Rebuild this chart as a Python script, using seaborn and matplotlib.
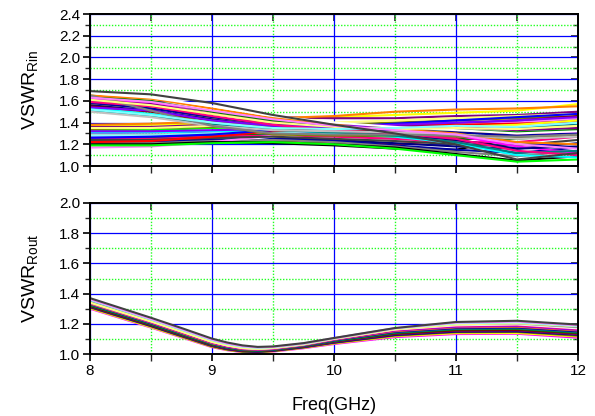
import matplotlib
matplotlib.use("Agg")
import matplotlib.pyplot as plt
import seaborn as sns
import pandas as pd
from matplotlib.ticker import MultipleLocator, FormatStrFormatter

sns.set_theme(style="white")
plt.rcParams['font.family'] = ['Liberation Sans', 'DejaVu Sans']
plt.rcParams['mathtext.fontset'] = 'custom'
plt.rcParams['mathtext.rm'] = 'Liberation Sans'
plt.rcParams['mathtext.it'] = 'Liberation Sans'

# ---------------- data ----------------
freq_rin = [8.0, 8.5, 9.0, 9.5, 10.0, 10.5, 11.0, 11.5, 12.0]

# input VSWR curves that start low (8 GHz ~1.17-1.39)
rin_low_start = [
    [1.21, 1.22, 1.22, 1.21, 1.19, 1.16, 1.15, 1.26, 1.36],
    [1.24, 1.24, 1.25, 1.24, 1.22, 1.20, 1.24, 1.28, 1.32],
    [1.33, 1.33, 1.35, 1.36, 1.37, 1.38, 1.40, 1.41, 1.44],
    [1.30, 1.31, 1.31, 1.32, 1.34, 1.33, 1.35, 1.37, 1.38],
    [1.31, 1.31, 1.32, 1.33, 1.34, 1.35, 1.37, 1.38, 1.40],
    [1.27, 1.27, 1.29, 1.30, 1.30, 1.29, 1.27, 1.28, 1.31],
    [1.37, 1.38, 1.39, 1.41, 1.45, 1.47, 1.49, 1.51, 1.57],
    [1.34, 1.35, 1.36, 1.37, 1.38, 1.40, 1.42, 1.44, 1.46],
    [1.23, 1.23, 1.25, 1.26, 1.24, 1.21, 1.18, 1.16, 1.21],
    [1.36, 1.36, 1.38, 1.45, 1.44, 1.44, 1.46, 1.47, 1.50],
    [1.20, 1.21, 1.25, 1.30, 1.33, 1.36, 1.39, 1.42, 1.46],
    [1.26, 1.26, 1.28, 1.29, 1.28, 1.27, 1.25, 1.25, 1.29],
    [1.19, 1.20, 1.24, 1.29, 1.31, 1.33, 1.34, 1.35, 1.38],
    [1.22, 1.22, 1.24, 1.25, 1.23, 1.19, 1.15, 1.12, 1.17],
    [1.38, 1.39, 1.41, 1.44, 1.46, 1.50, 1.52, 1.53, 1.55],
    [1.32, 1.32, 1.33, 1.34, 1.35, 1.36, 1.38, 1.40, 1.42],
    [1.25, 1.25, 1.27, 1.28, 1.27, 1.25, 1.22, 1.22, 1.27],
    [1.18, 1.19, 1.22, 1.27, 1.30, 1.32, 1.35, 1.37, 1.40],
    [1.29, 1.29, 1.30, 1.31, 1.32, 1.33, 1.33, 1.34, 1.36],
    [1.21, 1.21, 1.23, 1.24, 1.22, 1.18, 1.13, 1.09, 1.14],
    [1.35, 1.35, 1.37, 1.38, 1.40, 1.42, 1.44, 1.46, 1.48],
    [1.28, 1.28, 1.30, 1.31, 1.31, 1.31, 1.30, 1.31, 1.34],
    [1.17, 1.18, 1.22, 1.28, 1.32, 1.35, 1.38, 1.40, 1.44],
    [1.24, 1.24, 1.26, 1.27, 1.25, 1.23, 1.20, 1.19, 1.24],
    [1.20, 1.20, 1.22, 1.22, 1.20, 1.17, 1.11, 1.05, 1.09],
    [1.22, 1.23, 1.27, 1.32, 1.35, 1.37, 1.38, 1.39, 1.41],
    [1.19, 1.19, 1.21, 1.22, 1.20, 1.16, 1.10, 1.04, 1.06],
    [1.26, 1.27, 1.29, 1.33, 1.36, 1.39, 1.42, 1.45, 1.48],
]

# input VSWR curves that start high (8 GHz ~1.50-1.70)
rin_high_start = [
    [1.53, 1.48, 1.40, 1.34, 1.30, 1.27, 1.21, 1.10, 1.08],
    [1.62, 1.58, 1.50, 1.40, 1.35, 1.32, 1.28, 1.18, 1.12],
    [1.57, 1.54, 1.44, 1.37, 1.34, 1.34, 1.36, 1.38, 1.42],
    [1.66, 1.52, 1.38, 1.29, 1.28, 1.28, 1.27, 1.27, 1.28],
    [1.56, 1.51, 1.43, 1.36, 1.32, 1.29, 1.24, 1.16, 1.18],
    [1.60, 1.57, 1.48, 1.41, 1.38, 1.37, 1.36, 1.33, 1.35],
    [1.55, 1.50, 1.42, 1.35, 1.33, 1.32, 1.31, 1.30, 1.33],
    [1.64, 1.60, 1.50, 1.42, 1.37, 1.35, 1.33, 1.31, 1.33],
    [1.51, 1.46, 1.38, 1.33, 1.31, 1.28, 1.22, 1.12, 1.14],
    [1.58, 1.53, 1.45, 1.38, 1.35, 1.33, 1.31, 1.28, 1.30],
    [1.65, 1.62, 1.53, 1.44, 1.38, 1.34, 1.30, 1.22, 1.20],
    [1.54, 1.51, 1.42, 1.37, 1.36, 1.38, 1.40, 1.42, 1.45],
    [1.59, 1.55, 1.46, 1.38, 1.33, 1.30, 1.25, 1.14, 1.10],
    [1.67, 1.63, 1.55, 1.46, 1.40, 1.36, 1.33, 1.30, 1.32],
    [1.50, 1.45, 1.37, 1.33, 1.32, 1.31, 1.29, 1.25, 1.27],
    [1.65, 1.51, 1.37, 1.30, 1.29, 1.29, 1.28, 1.27, 1.29],
    [1.61, 1.56, 1.48, 1.40, 1.36, 1.34, 1.35, 1.34, 1.37],
    [1.52, 1.47, 1.40, 1.35, 1.34, 1.35, 1.37, 1.36, 1.40],
    [1.63, 1.59, 1.51, 1.43, 1.37, 1.33, 1.29, 1.20, 1.16],
    [1.69, 1.66, 1.58, 1.47, 1.38, 1.30, 1.20, 1.06, 1.12],
]

freq_rout = [8.0, 8.5, 8.75, 9.0, 9.125, 9.25, 9.375, 9.5, 9.75, 10.0, 10.5, 11.0, 11.5, 12.0]

rout_curves = [
    [1.300, 1.175, 1.110, 1.045, 1.025, 1.012, 1.010, 1.016, 1.038, 1.066, 1.112, 1.132, 1.134, 1.108],
    [1.304, 1.178, 1.113, 1.048, 1.027, 1.014, 1.012, 1.018, 1.041, 1.070, 1.118, 1.138, 1.139, 1.116],
    [1.308, 1.183, 1.116, 1.050, 1.029, 1.016, 1.013, 1.020, 1.043, 1.073, 1.122, 1.144, 1.146, 1.121],
    [1.312, 1.186, 1.120, 1.054, 1.032, 1.018, 1.015, 1.021, 1.045, 1.076, 1.126, 1.148, 1.150, 1.127],
    [1.315, 1.190, 1.123, 1.056, 1.034, 1.020, 1.017, 1.023, 1.047, 1.079, 1.131, 1.153, 1.156, 1.131],
    [1.318, 1.192, 1.126, 1.059, 1.037, 1.023, 1.019, 1.025, 1.050, 1.083, 1.135, 1.157, 1.160, 1.137],
    [1.322, 1.196, 1.129, 1.062, 1.040, 1.025, 1.021, 1.027, 1.052, 1.085, 1.139, 1.163, 1.166, 1.140],
    [1.326, 1.200, 1.133, 1.066, 1.042, 1.027, 1.023, 1.029, 1.054, 1.088, 1.143, 1.167, 1.171, 1.146],
    [1.330, 1.203, 1.136, 1.068, 1.045, 1.030, 1.025, 1.031, 1.056, 1.091, 1.147, 1.172, 1.176, 1.150],
    [1.333, 1.207, 1.139, 1.071, 1.048, 1.032, 1.027, 1.033, 1.058, 1.094, 1.151, 1.177, 1.181, 1.156],
    [1.337, 1.210, 1.143, 1.075, 1.050, 1.035, 1.029, 1.035, 1.060, 1.096, 1.155, 1.181, 1.186, 1.160],
    [1.341, 1.214, 1.146, 1.078, 1.053, 1.037, 1.031, 1.037, 1.062, 1.098, 1.158, 1.186, 1.190, 1.166],
    [1.345, 1.218, 1.150, 1.081, 1.056, 1.039, 1.033, 1.039, 1.063, 1.100, 1.162, 1.190, 1.196, 1.170],
    [1.349, 1.221, 1.153, 1.084, 1.059, 1.042, 1.035, 1.041, 1.065, 1.102, 1.165, 1.195, 1.200, 1.176],
    [1.353, 1.225, 1.157, 1.088, 1.062, 1.045, 1.038, 1.043, 1.066, 1.103, 1.168, 1.199, 1.205, 1.180],
    [1.340, 1.215, 1.148, 1.080, 1.057, 1.040, 1.034, 1.040, 1.064, 1.101, 1.164, 1.196, 1.204, 1.184],
    [1.358, 1.229, 1.161, 1.092, 1.066, 1.048, 1.041, 1.045, 1.068, 1.104, 1.170, 1.204, 1.210, 1.186],
    [1.363, 1.233, 1.166, 1.096, 1.070, 1.052, 1.044, 1.047, 1.070, 1.105, 1.171, 1.208, 1.215, 1.190],
    [1.370, 1.240, 1.172, 1.102, 1.076, 1.057, 1.047, 1.050, 1.072, 1.106, 1.172, 1.212, 1.220, 1.195],
]

origin_colors = ['#000000', '#FF0000', '#00FF00', '#0000FF', '#00FFFF', '#FF00FF',
                 '#FFFF00', '#808000', '#000080', '#800080', '#800000', '#008000',
                 '#008080', '#0000A0', '#FF8000', '#8000FF', '#FF0080', '#FFFFFF',
                 '#C0C0C0', '#808080', '#FFFF80', '#80FFFF', '#FF80FF', '#404040']


def to_long(freqs, curves):
    rows = []
    for i, c in enumerate(curves):
        for f, v in zip(freqs, c):
            rows.append({'freq': f, 'vswr': v, 'curve': f'c{i:02d}'})
    return pd.DataFrame(rows)


df_rin = to_long(freq_rin, rin_low_start + rin_high_start)
df_rout = to_long(freq_rout, rout_curves)

fig = plt.figure(figsize=(5.95, 4.16), dpi=100)
ax1 = fig.add_axes([90 / 595, 1 - 166 / 416, 488 / 595, 152 / 416])
ax2 = fig.add_axes([90 / 595, 1 - 354 / 416, 488 / 595, 151 / 416])


def style_axes(ax, ylo, yhi, show_xlabels):
    ax.set_xlim(8, 12)
    ax.set_ylim(ylo, yhi)
    ax.xaxis.set_major_locator(MultipleLocator(1))
    ax.xaxis.set_minor_locator(MultipleLocator(0.5))
    ax.yaxis.set_major_locator(MultipleLocator(0.2))
    ax.yaxis.set_minor_locator(MultipleLocator(0.1))
    ax.yaxis.set_major_formatter(FormatStrFormatter('%.1f'))
    ax.set_axisbelow(True)
    ax.grid(which='major', color='#0000FF', lw=0.9, ls='-')
    ax.grid(which='minor', color='#22FF22', lw=1.0, ls=(0, (1, 1.2)))
    for s in ax.spines.values():
        s.set_visible(True)
        s.set_color('black')
        s.set_linewidth(1.4)
    ax.tick_params(which='major', direction='out', length=5, width=1.2,
                   labelsize=11, colors='black', pad=2,
                   left=True, bottom=True, top=False, right=False)
    ax.tick_params(which='minor', direction='out', length=3.5, width=1.0,
                   left=True, bottom=True, top=False, right=False)
    ax.tick_params(axis='x', which='minor', length=5)
    if not show_xlabels:
        ax.tick_params(axis='x', labelbottom=False)
    sy = ax.secondary_yaxis('right')
    sy.yaxis.set_major_locator(MultipleLocator(0.2))
    sy.yaxis.set_minor_locator(MultipleLocator(0.1))
    sy.tick_params(which='major', direction='in', length=5, width=1.2, labelright=False)
    sy.tick_params(which='minor', direction='in', length=3.5, width=1.0)
    sy.spines['right'].set_linewidth(1.4)
    sx = ax.secondary_xaxis('top')
    sx.xaxis.set_major_locator(MultipleLocator(1))
    sx.xaxis.set_minor_locator(MultipleLocator(0.5))
    sx.tick_params(which='both', direction='in', length=5, width=1.2, labeltop=False)
    sx.spines['top'].set_linewidth(1.4)


sns.lineplot(data=df_rin, x='freq', y='vswr', hue='curve',
             palette=[origin_colors[i % 24] for i in range(df_rin['curve'].nunique())],
             estimator=None, legend=False, lw=1.5, ax=ax1)
n_out = df_rout['curve'].nunique()
sns.lineplot(data=df_rout, x='freq', y='vswr', hue='curve',
             palette=origin_colors[24 - n_out:],
             estimator=None, legend=False, lw=1.5, ax=ax2)

style_axes(ax1, 1.0, 2.4, False)
style_axes(ax2, 1.0, 2.0, True)

ax1.set_xlabel('')
ax1.set_ylabel(r'VSWR$_{\mathrm{Rin}}$', fontsize=14, color='black', labelpad=14)
ax2.set_ylabel(r'VSWR$_{\mathrm{Rout}}$', fontsize=14, color='black', labelpad=14)
ax2.set_xlabel('Freq(GHz)', fontsize=13, color='black', labelpad=14)

fig.savefig('out.png', dpi=100)
